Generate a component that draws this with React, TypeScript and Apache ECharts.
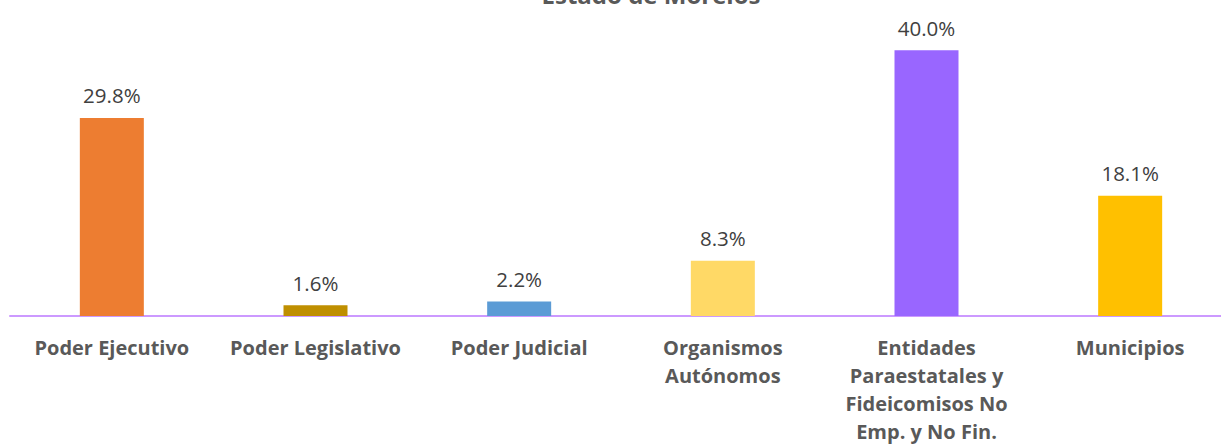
import React, { useEffect, useRef } from "react";
import * as echarts from "echarts";

const title = "Estado de Morelos";
const categories = [
  "Poder Ejecutivo",
  "Poder Legislativo",
  "Poder Judicial",
  "Organismos\nAutónomos",
  "Entidades\nParaestatales y\nFideicomisos No\nEmp. y No Fin.",
  "Municipios",
];
const values = [29.8, 1.6, 2.2, 8.3, 40.0, 18.1];
const colors = ["#ED7D31", "#BF8F00", "#5B9BD5", "#FFD966", "#9966FF", "#FFC000"];

export default function App() {
  const ref = useRef<HTMLDivElement>(null);
  useEffect(() => {
    if (!ref.current) return;
    const chart = echarts.init(ref.current, undefined, { renderer: "svg" });
    chart.setOption({
      animation: false,
      grid: { left: 10, right: 8, top: 17, bottom: 129, containLabel: false },
      graphic: [
        {
          type: "text",
          x: 651,
          y: 6,
          style: {
            text: title,
            font: "bold 24px 'Open Sans'",
            fill: "#595959",
            align: "center",
            verticalAlign: "bottom",
          },
        },
      ],
      xAxis: {
        type: "category",
        data: categories,
        axisLine: { show: true, lineStyle: { color: "#CC99FF", width: 2 } },
        axisTick: { show: false },
        axisLabel: {
          interval: 0,
          margin: 17,
          fontFamily: "Open Sans",
          fontWeight: "bold",
          fontSize: 20,
          lineHeight: 28,
          color: "#595959",
          verticalAlign: "top",
        },
      },
      yAxis: {
        type: "value",
        min: 0,
        max: 45,
        show: false,
        splitLine: { show: false },
      },
      series: [
        {
          type: "bar",
          barWidth: 64,
          data: values.map((v, i) => ({ value: v, itemStyle: { color: colors[i] } })),
          label: {
            show: true,
            position: "top",
            distance: 12,
            formatter: (p: any) => p.value.toFixed(1) + "%",
            fontFamily: "Open Sans",
            fontSize: 20.5,
            color: "#404040",
          },
        },
      ],
    });
    return () => chart.dispose();
  }, []);
  return (
    <div style={{ position: "fixed", left: 0, top: 0, width: 1221, height: 445, overflow: "hidden", background: "#fff" }}>
      <div ref={ref} style={{ width: 1240, height: 445 }} />
    </div>
  );
}
